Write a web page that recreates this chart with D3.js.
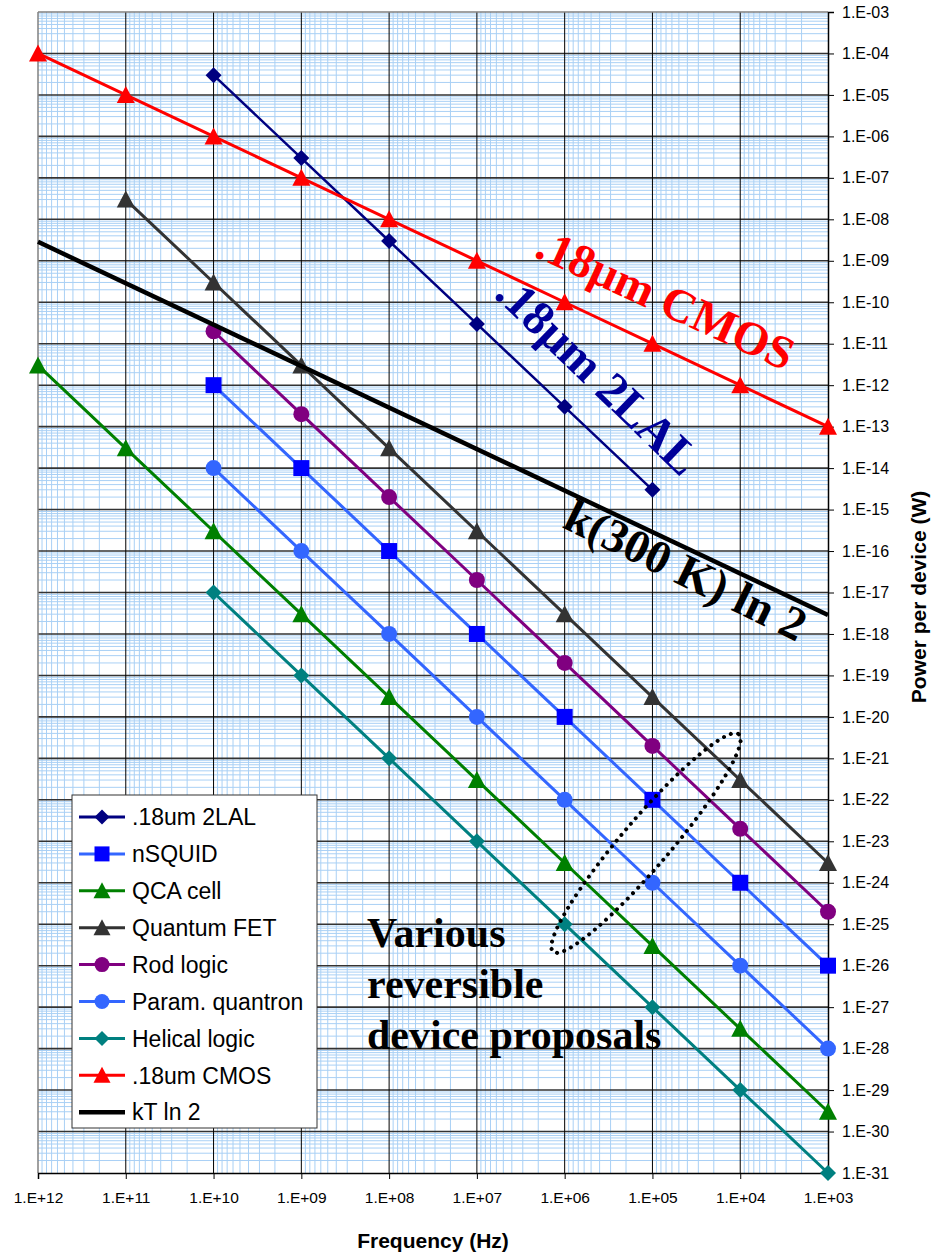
<!DOCTYPE html>
<html>
<head>
<meta charset="utf-8">
<script src="https://cdn.jsdelivr.net/npm/d3@7"></script>
<style>
  html, body { margin: 0; padding: 0; background: #fff; }
  svg { display: block; }
</style>
</head>
<body>
<svg id="chart" width="937" height="1254"></svg>
<script>
// ---------------- DATA ----------------
const xTickValues = [1e12, 1e11, 1e10, 1e9, 1e8, 1e7, 1e6, 1e5, 1e4, 1e3];
const xTickLabels = ["1.E+12", "1.E+11", "1.E+10", "1.E+09", "1.E+08", "1.E+07", "1.E+06", "1.E+05", "1.E+04", "1.E+03"];
const yTickValues = [1e-3, 1e-4, 1e-5, 1e-6, 1e-7, 1e-8, 1e-9, 1e-10, 1e-11, 1e-12, 1e-13, 1e-14, 1e-15, 1e-16, 1e-17,
                     1e-18, 1e-19, 1e-20, 1e-21, 1e-22, 1e-23, 1e-24, 1e-25, 1e-26, 1e-27, 1e-28, 1e-29, 1e-30, 1e-31];
const yTickLabels = ["1.E-03", "1.E-04", "1.E-05", "1.E-06", "1.E-07", "1.E-08", "1.E-09", "1.E-10", "1.E-11", "1.E-12",
                     "1.E-13", "1.E-14", "1.E-15", "1.E-16", "1.E-17", "1.E-18", "1.E-19", "1.E-20", "1.E-21", "1.E-22",
                     "1.E-23", "1.E-24", "1.E-25", "1.E-26", "1.E-27", "1.E-28", "1.E-29", "1.E-30", "1.E-31"];

const lal2Freq     = [1e10, 1e9, 1e8, 1e7, 1e6, 1e5];
const lal2Power    = [3e-5, 3e-7, 3e-9, 3e-11, 3e-13, 3e-15];
const nsquidFreq   = [1e10, 1e9, 1e8, 1e7, 1e6, 1e5, 1e4, 1e3];
const nsquidPower  = [1e-12, 1e-14, 1e-16, 1e-18, 1e-20, 1e-22, 1e-24, 1e-26];
const qcaFreq      = [1e12, 1e11, 1e10, 1e9, 1e8, 1e7, 1e6, 1e5, 1e4, 1e3];
const qcaPower     = [3e-12, 3e-14, 3e-16, 3e-18, 3e-20, 3e-22, 3e-24, 3e-26, 3e-28, 3e-30];
const qfetFreq     = [1e11, 1e10, 1e9, 1e8, 1e7, 1e6, 1e5, 1e4, 1e3];
const qfetPower    = [3e-8, 3e-10, 3e-12, 3e-14, 3e-16, 3e-18, 3e-20, 3e-22, 3e-24];
const rodFreq      = [1e10, 1e9, 1e8, 1e7, 1e6, 1e5, 1e4, 1e3];
const rodPower     = [2e-11, 2e-13, 2e-15, 2e-17, 2e-19, 2e-21, 2e-23, 2e-25];
const quantronFreq = [1e10, 1e9, 1e8, 1e7, 1e6, 1e5, 1e4, 1e3];
const quantronPower= [1e-14, 1e-16, 1e-18, 1e-20, 1e-22, 1e-24, 1e-26, 1e-28];
const helicalFreq  = [1e10, 1e9, 1e8, 1e7, 1e6, 1e5, 1e4, 1e3];
const helicalPower = [1e-17, 1e-19, 1e-21, 1e-23, 1e-25, 1e-27, 1e-29, 1e-31];
const cmosFreq     = [1e12, 1e11, 1e10, 1e9, 1e8, 1e7, 1e6, 1e5, 1e4, 1e3];
const cmosPower    = [1e-4, 1e-5, 1e-6, 1e-7, 1e-8, 1e-9, 1e-10, 1e-11, 1e-12, 1e-13];
const kTFreq       = [1e12, 1e3];
const kTPower      = [2.87e-9, 2.87e-18];

const seriesNames = [".18um 2LAL", "nSQUID", "QCA cell", "Quantum FET", "Rod logic",
                     "Param. quantron", "Helical logic", ".18um CMOS", "kT ln 2"];

const xTitle = "Frequency (Hz)";
const yTitle = "Power per device (W)";

// ---------------- STYLES ----------------
const styles = {
  ".18um 2LAL":      { line: "#000080", fill: "#000080", marker: "diamond",  lw: 2.5 },
  "nSQUID":          { line: "#3366ff", fill: "#0000ff", marker: "square",   lw: 3 },
  "QCA cell":        { line: "#008000", fill: "#008000", marker: "triangle", lw: 3 },
  "Quantum FET":     { line: "#333333", fill: "#333333", marker: "triangle", lw: 3 },
  "Rod logic":       { line: "#800080", fill: "#800080", marker: "circle",   lw: 3 },
  "Param. quantron": { line: "#3366ff", fill: "#3366ff", marker: "circle",   lw: 3 },
  "Helical logic":   { line: "#008080", fill: "#008080", marker: "diamond",  lw: 3 },
  ".18um CMOS":      { line: "#ff0000", fill: "#ff0000", marker: "triangle", lw: 3 },
  "kT ln 2":         { line: "#000000", fill: "#000000", marker: "none",     lw: 4.5 }
};

const seriesData = {
  ".18um 2LAL": [lal2Freq, lal2Power],
  "nSQUID": [nsquidFreq, nsquidPower],
  "QCA cell": [qcaFreq, qcaPower],
  "Quantum FET": [qfetFreq, qfetPower],
  "Rod logic": [rodFreq, rodPower],
  "Param. quantron": [quantronFreq, quantronPower],
  "Helical logic": [helicalFreq, helicalPower],
  ".18um CMOS": [cmosFreq, cmosPower],
  "kT ln 2": [kTFreq, kTPower]
};

// ---------------- LAYOUT ----------------
const L = 38, R = 828, T = 12, B = 1173;
const svg = d3.select("#chart");
const x = d3.scaleLog().domain([1e12, 1e3]).range([L, R]);
const y = d3.scaleLog().domain([1e-3, 1e-31]).range([T, B]);

svg.append("rect").attr("x", L).attr("y", T).attr("width", R - L).attr("height", B - T).attr("fill", "#fff");

// minor grid
const minorX = [], minorY = [];
for (let e = 3; e < 12; e++) for (let k = 2; k <= 9; k++) minorX.push(k * Math.pow(10, e));
for (let e = -31; e < -3; e++) for (let k = 2; k <= 9; k++) minorY.push(k * Math.pow(10, e));

const grid = svg.append("g");
grid.selectAll(".mx").data(minorX).join("line")
  .attr("x1", d => x(d)).attr("x2", d => x(d)).attr("y1", T).attr("y2", B)
  .attr("stroke", "#a9d0f5").attr("stroke-width", 1);
grid.selectAll(".my").data(minorY).join("line")
  .attr("x1", L).attr("x2", R).attr("y1", d => y(d)).attr("y2", d => y(d))
  .attr("stroke", "#a9d0f5").attr("stroke-width", 1);
// major grid
grid.selectAll(".My").data(yTickValues.slice(1, -1)).join("line")
  .attr("x1", L).attr("x2", R).attr("y1", d => y(d)).attr("y2", d => y(d))
  .attr("stroke", "#333").attr("stroke-width", 1.6);
grid.selectAll(".Mx").data(xTickValues.slice(1, -1)).join("line")
  .attr("x1", d => x(d)).attr("x2", d => x(d)).attr("y1", T).attr("y2", B)
  .attr("stroke", "#000").attr("stroke-width", 1);

// border
svg.append("line").attr("x1", L).attr("x2", L).attr("y1", T).attr("y2", B).attr("stroke", "#808080").attr("stroke-width", 1.5);
svg.append("line").attr("x1", L).attr("x2", R).attr("y1", T).attr("y2", T).attr("stroke", "#808080").attr("stroke-width", 1.5);

// axes
const xAxis = d3.axisBottom(x).tickValues(xTickValues)
  .tickFormat((d, i) => xTickLabels[i]).tickSize(6).tickPadding(13);
const gx = svg.append("g").attr("transform", `translate(0,${B})`).call(xAxis);
gx.select(".domain").attr("stroke", "#000").attr("stroke-width", 1.5);
gx.selectAll("text").attr("font-family", "Liberation Sans, Arial, sans-serif").attr("font-size", 15.5).attr("fill", "#000");

const yAxis = d3.axisRight(y).tickValues(yTickValues)
  .tickFormat((d, i) => yTickLabels[i]).tickSize(6).tickPadding(8);
const gy = svg.append("g").attr("transform", `translate(${R},0)`).call(yAxis);
gy.select(".domain").attr("stroke", "#000").attr("stroke-width", 1.5);
gy.selectAll("text").attr("font-family", "Liberation Sans, Arial, sans-serif").attr("font-size", 16).attr("fill", "#000");

// axis titles
svg.append("text").attr("x", 433).attr("y", 1248).attr("text-anchor", "middle")
  .attr("font-family", "Liberation Sans, Arial, sans-serif").attr("font-weight", "bold").attr("font-size", 21)
  .text(xTitle);
svg.append("text").attr("transform", "translate(926,597) rotate(-90)").attr("text-anchor", "middle")
  .attr("font-family", "Liberation Sans, Arial, sans-serif").attr("font-weight", "bold").attr("font-size", 21)
  .text(yTitle);

// marker path
function markerPath(type, s) {
  const h = s / 2;
  if (type === "diamond") return `M0,${-h}L${h},0L0,${h}L${-h},0Z`;
  if (type === "square") return `M${-h},${-h}H${h}V${h}H${-h}Z`;
  if (type === "triangle") return `M0,${-h - 1}L${h + 1},${h}L${-h - 1},${h}Z`;
  if (type === "circle") return d3.symbol(d3.symbolCircle, Math.PI * h * h)();
  return "";
}

const line = d3.line().x(d => x(d[0])).y(d => y(d[1]));
const drawOrder = ["Helical logic", "Param. quantron", "nSQUID", "Rod logic", "QCA cell", "Quantum FET",
                   ".18um 2LAL", ".18um CMOS", "kT ln 2"];
const plot = svg.append("g");
drawOrder.forEach(name => {
  const st = styles[name];
  const [fx, py] = seriesData[name];
  const pts = fx.map((f, i) => [f, py[i]]);
  const g = plot.append("g");
  g.append("path").datum(pts).attr("d", line).attr("fill", "none")
    .attr("stroke", st.line).attr("stroke-width", st.lw).attr("stroke-linejoin", "round");
  if (st.marker !== "none") {
    g.selectAll("path.m").data(pts).join("path").attr("class", "m")
      .attr("transform", d => `translate(${x(d[0])},${y(d[1])})`)
      .attr("d", markerPath(st.marker, st.marker === "diamond" ? 16 : 16))
      .attr("fill", st.fill);
  }
});

// annotations
const serif = "Liberation Serif, 'Times New Roman', serif";
svg.append("text").attr("transform", "translate(533,256) rotate(24.5)")
  .attr("font-family", serif).attr("font-weight", "bold").attr("font-size", 47).attr("fill", "#ff0000")
  .text(".18μm CMOS");
svg.append("text").attr("transform", "translate(493,296) rotate(44)")
  .attr("font-family", serif).attr("font-weight", "bold").attr("font-size", 48).attr("fill", "#000099")
  .text(".18μm 2LAL");
svg.append("text").attr("transform", "translate(561,527) rotate(26)")
  .attr("font-family", serif).attr("font-weight", "bold").attr("font-size", 47).attr("fill", "#000")
  .text("k(300 K) ln 2");

const various = svg.append("text").attr("font-family", serif).attr("font-weight", "bold")
  .attr("font-size", 42).attr("fill", "#000");
["Various", "reversible", "device proposals"].forEach((t, i) => {
  various.append("tspan").attr("x", 367).attr("y", 947 + i * 51).text(t);
});

svg.append("ellipse").attr("transform", "translate(646,843) rotate(-49.5)")
  .attr("rx", 143).attr("ry", 24).attr("fill", "none").attr("stroke", "#000")
  .attr("stroke-width", 4).attr("stroke-linecap", "round").attr("stroke-dasharray", "0 7.5");

// legend
const lg = svg.append("g");
lg.append("rect").attr("x", 72).attr("y", 795).attr("width", 245).attr("height", 333)
  .attr("fill", "#fff").attr("stroke", "#333").attr("stroke-width", 1);
seriesNames.forEach((name, i) => {
  const st = styles[name];
  const cy = 817 + i * 36.9;
  lg.append("line").attr("x1", 79).attr("x2", 125).attr("y1", cy).attr("y2", cy)
    .attr("stroke", st.line).attr("stroke-width", name === "kT ln 2" ? 4.5 : 3);
  if (st.marker !== "none") {
    lg.append("path").attr("transform", `translate(102,${cy})`)
      .attr("d", markerPath(st.marker, 15)).attr("fill", st.fill);
  }
  lg.append("text").attr("x", 132).attr("y", cy).attr("dy", "0.36em")
    .attr("font-family", "Liberation Sans, Arial, sans-serif").attr("font-size", 23).attr("fill", "#000")
    .text(name);
});
</script>
</body>
</html>
